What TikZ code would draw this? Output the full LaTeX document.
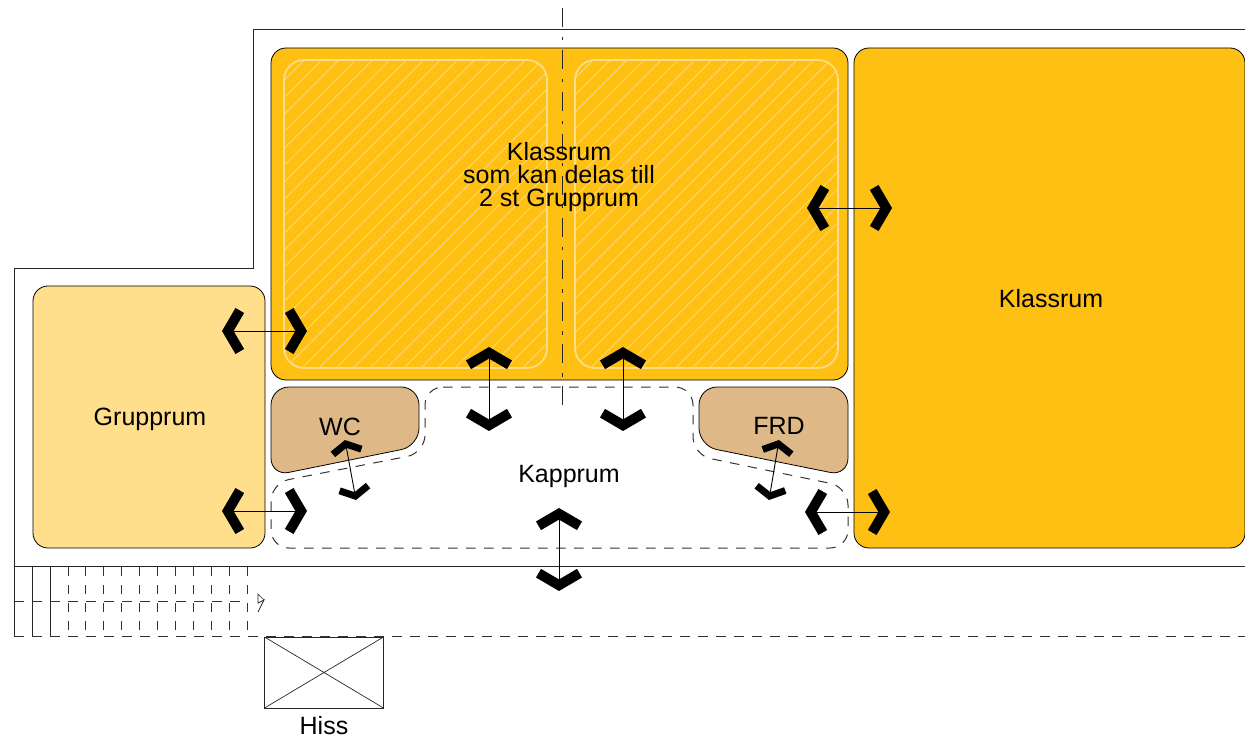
\documentclass[tikz,border=0pt]{standalone}
\usepackage{fontspec}
\setmainfont{Liberation Sans}
\usepackage{xcolor}
\usetikzlibrary{arrows.meta, patterns.meta}

\definecolor{roomorange}{HTML}{FFC014}
\definecolor{roomlight}{HTML}{FFDF8C}
\definecolor{roomtan}{HTML}{DEB887}
\definecolor{hatchline}{HTML}{FFDC85}

\begin{document}
\begin{tikzpicture}[
        x=1pt, y=-1pt,
        room/.style={rectangle, draw=black, line width=0.8pt, rounded corners=15pt, inner sep=0pt, outer sep=0pt, align=center},
        label/.style={font=\fontsize{25}{23}\selectfont, align=center, inner sep=0pt},
        divided/.style={draw=hatchline, line width=1.8pt, rounded corners=20pt, pattern={Lines[angle=45,distance=12pt,line width=0.7pt]}, pattern color=hatchline},
        wall/.style={draw=black!85, line width=1pt},
        dashwall/.style={draw=black!80, line width=1pt, dash pattern=on 9.5pt off 8.5pt},
        stairdash/.style={draw=black!80, line width=1pt, dash pattern=on 8.5pt off 9.5pt},
        door/.style={line width=0.9pt, {Straight Barb[length=12pt, width=41pt, line width=10pt]}-{Straight Barb[length=12pt, width=41pt, line width=10pt]}},
        smalldoor/.style={line width=0.9pt, {Straight Barb[length=8pt, width=29pt, line width=7pt]}-{Straight Barb[length=8pt, width=29pt, line width=7pt]}}
    ]
        \useasboundingbox (0,0) rectangle (1245,738);

        % Walls
        \draw[wall] (14,566) -- (14,268) -- (253,268) -- (253,30) -- (1245,30);
        \draw[wall] (14,566) -- (1245,566);

        % Rooms
        \node[room, fill=roomorange, minimum width=577pt, minimum height=332pt] (klassrumdelat) at (559.5,214) {};
        \node[room, fill=roomorange, minimum width=391pt, minimum height=500pt] (klassrum) at (1049.5,298) {};
        \node[room, fill=roomlight, minimum width=232pt, minimum height=262pt] (grupprum) at (149,417) {};
        \draw[divided] (284,60) rectangle (547,368);
        \draw[divided] (575,60) rectangle (838,368);
        \draw[fill=roomtan, line width=0.8pt, rounded corners=18pt] (271,387) -- (419,387) -- (419,446) -- (271,476) -- cycle;
        \draw[fill=roomtan, line width=0.8pt, rounded corners=18pt] (699,387) -- (848,387) -- (848,476) -- (699,446) -- cycle;
        \draw[dashwall, rounded corners=18pt] (425,387) -- (693,387) -- (693,455) -- (848,487) -- (848,548) -- (271,548) -- (271,483) -- (425,453) -- cycle;

        % Centre line
        \draw[draw=black!85, line width=0.9pt, dash pattern=on 19pt off 10pt on 3.5pt off 9.5pt] (562,8) -- (562,406);

        % Stairs
        \foreach \x in {14,32,50}
            \draw[wall] (\x,566) -- (\x,636);
        \foreach \x in {68,85.9,...,248}
            \draw[stairdash] (\x,567) -- (\x,636);
        \draw[dashwall] (14,601) -- (247,601);
        \draw[dashwall] (14,636) -- (1245,636);
        \draw[wall, line width=0.7pt] (264,600) -- (258,594) -- (258,603) -- (264,600) -- (258,612);

        % Labels
        \node[label] (delat) at (559,177) {Klassrum\\som kan delas till\\2 st Grupprum};
        \node[label] (klassrumtext) at (1051,299) {Klassrum};
        \node[label] (grupprumtext) at (150,419) {Grupprum};
        \node[label] (wc) at (340,427) {WC};
        \node[label] (frd) at (779,426) {FRD};
        \node[label] (kapprum) at (569,476) {Kapprum};

        % Lift
        \node[rectangle, draw=black!85, line width=0.9pt, minimum width=119pt, minimum height=71pt, inner sep=0pt, outer sep=0pt] (hiss) at (324,672.5) {};
        \draw[black!85, line width=0.7pt] (hiss.north west) -- (hiss.south east);
        \draw[black!85, line width=0.7pt] (hiss.south west) -- (hiss.north east);
        \node[label] (hisstext) at (324,726) {Hiss};

        % Door ends
        \coordinate (d1a) at (222,331);
        \coordinate (d1b) at (307,331);
        \coordinate (d2a) at (222,511);
        \coordinate (d2b) at (307,511);
        \coordinate (d3a) at (807,208);
        \coordinate (d3b) at (892,208);
        \coordinate (d4a) at (805,512);
        \coordinate (d4b) at (890,512);
        \coordinate (d5a) at (489,347);
        \coordinate (d5b) at (489,431);
        \coordinate (d6a) at (623,347);
        \coordinate (d6b) at (623,431);
        \coordinate (d7a) at (559,508);
        \coordinate (d7b) at (559,591);
        \coordinate (d8a) at (345,440);
        \coordinate (d8b) at (356,500);
        \coordinate (d9a) at (779,440);
        \coordinate (d9b) at (769,500);

        % Arrows
        \foreach \n in {1,...,7}
            \draw[door] (d\n a) -- (d\n b);
        \foreach \n in {8,9}
            \draw[smalldoor] (d\n a) -- (d\n b);
    \end{tikzpicture}
\end{document}
